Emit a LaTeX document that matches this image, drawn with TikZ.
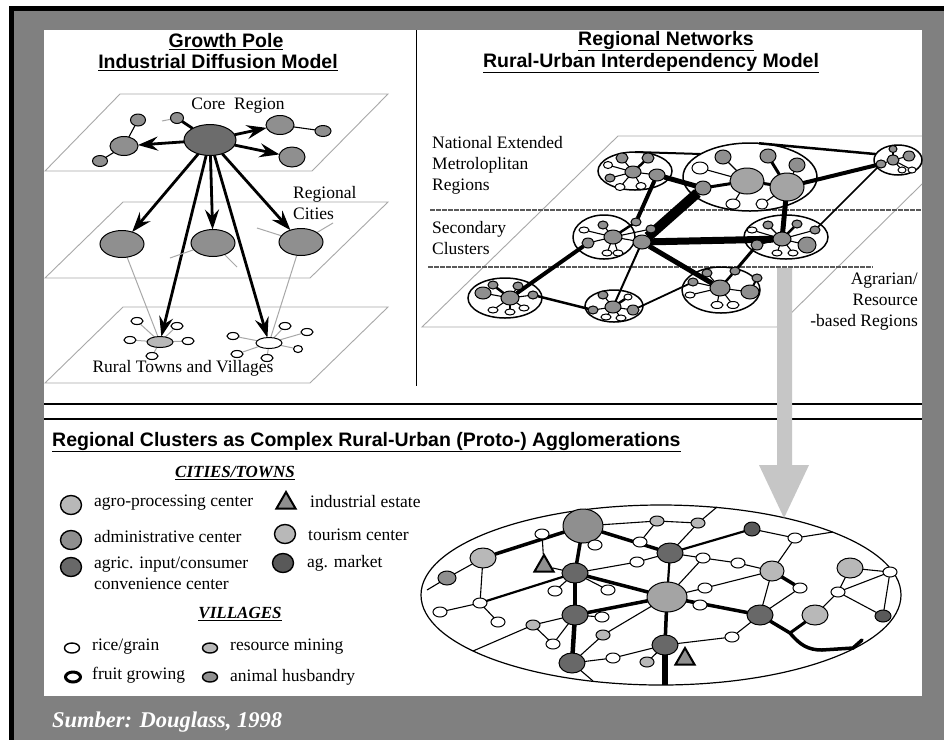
\documentclass[tikz,border=0pt]{standalone}
\usepackage{fontspec}
\setmainfont{Liberation Serif}
\newfontfamily\arial{Liberation Sans}
\usetikzlibrary{shapes.geometric,arrows.meta}
\pgfdeclarelayer{back}
\pgfdeclarelayer{clus}
\pgfdeclarelayer{edges}
\pgfsetlayers{back,clus,edges,main}
\definecolor{frgray}{HTML}{808080}
\definecolor{plane}{HTML}{A8A8A8}
\definecolor{cA}{HTML}{B8B8B8}
\definecolor{cA2}{HTML}{A4A4A4}
\definecolor{cB}{HTML}{8F8F8F}
\definecolor{cC}{HTML}{686868}
\definecolor{cD}{HTML}{595959}
\definecolor{corec}{HTML}{6C6C6C}
\definecolor{barg}{HTML}{C6C6C6}
\definecolor{dashc}{HTML}{5A5A5A}
\tikzset{
  ell/.style args={#1/#2/#3}{ellipse, draw=black, line width=1pt, fill=#3,
     minimum width=#1pt, minimum height=#2pt, inner sep=0pt, outer sep=0pt},
  vil/.style={ellipse, draw=black, line width=1.1pt, fill=white, minimum width=12pt, minimum height=7pt, inner sep=0pt},
  txt/.style={font=\fontsize{17.5}{21}\selectfont, inner sep=0pt},
  ttl/.style={font=\arial\bfseries\fontsize{19.5}{23}\selectfont, inner sep=0pt},
  hdr/.style={font=\bfseries\itshape\fontsize{17}{20}\selectfont, inner sep=0pt},
  pl/.style={draw=plane, line width=0.9pt},
  graylink/.style={draw=plane, line width=1pt},
  bigarr/.style={line width=2.8pt, -{Stealth[length=20pt,width=14pt,inset=7pt]}},
  tri/.style={regular polygon, regular polygon sides=3, draw=black, line width=2pt, fill=cB, minimum size=22pt, inner sep=0pt},
  thn/.style={line width=1.1pt},
  med/.style={line width=2.2pt},
  thk/.style={line width=3.5pt},
  clusb/.style={line width=1.5pt},
}
\begin{document}
\begin{tikzpicture}[x=1pt,y=-1pt]
\useasboundingbox (0,0) rectangle (944,740);
%================ background ================
\begin{pgfonlayer}{back}
\fill[white] (0,0) rectangle (944,740);
\fill[frgray] (13,11) rectangle (944,740);
\fill[black] (9,6) rectangle (944,11);
\fill[black] (9,6) rectangle (14,740);
\fill[white] (44,30) rectangle (922,696);
\draw[line width=1.2pt] (416.5,30) -- (416.5,386);
\draw[line width=1.3pt] (44,404) -- (922,404);
\draw[line width=1.3pt] (44,419) -- (922,419);
\draw[pl] (45,171) -- (120,94) -- (388,94) -- (312,171) -- cycle;
\draw[pl] (45,278) -- (123,202) -- (388,202) -- (310,278) -- cycle;
\draw[pl] (45,383) -- (123,307) -- (388,307) -- (310,383) -- cycle;
\draw[pl] (922,136) -- (618,136) -- (422,327) -- (777,327) -- (922,184);
\draw[dashc, line width=1.6pt, dash pattern=on 5pt off 1pt] (430,210) -- (922,210);
\draw[dashc, line width=1.6pt, dash pattern=on 5pt off 1pt] (428,267) -- (873,267);
\node[ell=480/180/white, line width=1.2pt] (agg) at (661,595) {};
\fill[barg] (777,268) -- (792,268) -- (792,465) -- (809,465) -- (784,518) -- (759,465) -- (777,465) -- cycle;
\end{pgfonlayer}
%================ titles and texts ================
\node[ttl] (t1a) at (226,42) {\underline{Growth Pole}};
\node[ttl] (t1b) at (218,63) {\underline{Industrial Diffusion Model}};
\node[ttl] (t2a) at (666,41) {\underline{Regional Networks}};
\node[ttl] (t2b) at (651,63) {\underline{Rural-Urban Interdependency Model}};
\node[ttl, anchor=west] (t3) at (52,442) {\underline{Regional Clusters as Complex Rural-Urban (Proto-) Agglomerations}};
\node[txt] (lcore) at (238,106) {Core\ \ Region};
\node[txt, anchor=west, align=left] (lreg) at (293,203) {Regional\\Cities};
\node[txt] (lrural) at (183,368) {Rural Towns and Villages};
\node[txt, anchor=west, align=left] (lnat) at (432,165) {National Extended\\Metroloplitan\\Regions};
\node[txt, anchor=west, align=left] (lsec) at (432,238) {Secondary\\Clusters};
\node[txt, anchor=east, align=right] (lagr) at (918,302) {Agrarian/\\Resource\\-based Regions};
%================ legend ================
\node[hdr] (hcity) at (235,473) {\underline{CITIES/TOWNS}};
\node[ell=21/19/cA, line width=1.4pt] (lg1) at (71,505) {};
\node[txt, anchor=west] (lt1) at (94,503) {agro-processing center};
\node[tri] (lg2) at (286,503) {};
\node[txt, anchor=west] (lt2) at (310,502) {industrial estate};
\node[ell=21/19/cB, line width=1.4pt] (lg3) at (71,540) {};
\node[txt, anchor=west] (lt3) at (94,537) {administrative center};
\node[ell=21/19/cA, line width=1.4pt] (lg4) at (285,534) {};
\node[txt, anchor=west] (lt4) at (308,535) {tourism center};
\node[ell=21/19/cC, line width=1.4pt] (lg5) at (71,567) {};
\node[txt, anchor=west, align=left] (lt5) at (94,573.5) {agric. input/consumer\\convenience center};
\node[ell=21/19/cD, line width=1.4pt] (lg6) at (283,563) {};
\node[txt, anchor=west] (lt6) at (307,563) {ag. market};
\node[hdr] (hvil) at (240,614) {\underline{VILLAGES}};
\node[ell=15/10/white, line width=1.4pt] (lv1) at (72,648) {};
\node[txt, anchor=west] (lvt1) at (92,647) {rice/grain};
\node[ell=15/10/cA, line width=1.4pt] (lv2) at (210,648) {};
\node[txt, anchor=west] (lvt2) at (230,647) {resource mining};
\node[ell=15/10/white, line width=3pt] (lv3) at (73,677) {};
\node[txt, anchor=west] (lvt3) at (92,675) {fruit growing};
\node[ell=15/10/cB, line width=1.4pt] (lv4) at (210,677) {};
\node[txt, anchor=west] (lvt4) at (230,677) {animal husbandry};
\node[font=\bfseries\itshape\fontsize{22.5}{26}\selectfont, text=white, anchor=west, inner sep=0pt] (src) at (52,722) {Sumber: Douglass, 1998};
%================ growth pole model ================
\node[ell=52/31/corec] (core) at (210,140) {};
\node[ell=28/19/cB] (tl) at (124,146) {};
\node[ell=15/12/cB] (tlu) at (138,120) {};
\node[ell=15/11/cB] (tld) at (100,161) {};
\node[ell=13/11/cB] (tt) at (177,118) {};
\node[ell=28/19/cB] (tr) at (280,125) {};
\node[ell=16/11/cB] (trr) at (323,131) {};
\node[ell=26/20/cB] (trd) at (292,157) {};
\node[ell=44/27/cB] (m1) at (122,244) {};
\node[ell=44/27/cB] (m2) at (213,243) {};
\node[ell=44/27/cB] (m3) at (301,242) {};
\node[ell=26/11/cA] (tw1) at (160,342) {};
\node[ell=26/11/white] (tw2) at (269,343) {};
\node[vil] (v1) at (137,321) {};
\node[vil] (v2) at (177,326) {};
\node[vil] (v3) at (130,340) {};
\node[vil] (v4) at (188,341) {};
\node[vil] (v5) at (152,356) {};
\node[vil] (u1) at (233,336) {};
\node[vil] (u2) at (285,326) {};
\node[vil] (u3) at (307,332) {};
\node[vil, minimum width=9pt] (u4) at (298,349) {};
\node[vil] (u5) at (237,354) {};
\node[vil] (u6) at (267,358) {};
\coordinate (sTT) at (162,121);
\coordinate (s1) at (170,258);
\coordinate (s2) at (237,267);
\coordinate (s3) at (257,228);
\coordinate (s4) at (333,223);
%================ regional networks: clusters ================
\begin{pgfonlayer}{clus}
\node[ell=74/38/white, clusb] (c1) at (635,171) {};
\node[ell=134/68/white, clusb] (c2) at (750,177) {};
\node[ell=48/30/white, clusb] (c3) at (898,160) {};
\node[ell=62/44/white, clusb] (c4) at (604,237) {};
\node[ell=84/44/white, clusb] (c5) at (786,237) {};
\node[ell=74/40/white, clusb] (c6) at (505,298) {};
\node[ell=58/32/white, clusb] (c7) at (614,306) {};
\node[ell=78/46/white, clusb] (c8) at (721,290) {};
\end{pgfonlayer}
% cluster 1
\node[ell=12/10/cB] (c1a) at (622,158) {};
\node[ell=12/10/cB] (c1b) at (648,158) {};
\node[ell=16/12/cB] (c1c) at (633,172) {};
\node[ell=16/12/cB] (c1d) at (657,175) {};
\node[ell=10/8/cB] (c1e) at (610,178) {};
\node[ell=10/7/white] (c1f) at (620,187) {};
\node[ell=10/7/white] (c1g) at (641,186) {};
\node[ell=9/7/white] (c1h) at (608,165) {};
% cluster 2
\node[ell=34/26/cA2] (c2a) at (747,181) {};
\node[ell=34/28/cA2] (c2b) at (787,187) {};
\node[ell=16/14/cB] (c2c) at (723,157) {};
\node[ell=16/14/cB] (c2d) at (768,156) {};
\node[ell=16/14/cB] (c2e) at (797,165) {};
\node[ell=16/12/white] (c2f) at (700,168) {};
\node[ell=14/10/white] (c2g) at (733,204) {};
\node[ell=12/10/white] (c2h) at (762,204) {};
\node[ell=16/14/cB] (c2i) at (703,188) {};
% cluster 3
\node[ell=12/10/cB] (c3a) at (893,160) {};
\node[ell=12/10/cB] (c3b) at (909,156) {};
\node[ell=10/8/cB] (c3c) at (881,164) {};
\node[ell=8/6/white] (c3d) at (902,170) {};
\node[ell=8/6/white] (c3e) at (912,170) {};
\node[ell=8/7/cB] (c3f) at (893,149) {};
% cluster 4
\node[ell=18/14/cB] (c4a) at (613,237) {};
\node[ell=10/8/cB] (c4b) at (603,225) {};
\node[ell=10/8/cB] (c4c) at (636,222) {};
\node[ell=10/8/cB] (c4d) at (651,229) {};
\node[ell=12/10/cB] (c4e) at (588,243) {};
\node[ell=10/6/white] (c4f) at (607,253) {};
\node[ell=10/6/white] (c4g) at (618,253) {};
\node[ell=10/6/white] (c4h) at (584,230) {};
\node[ell=18/14/cB] (c4i) at (642,242) {};
% cluster 5
\node[ell=18/14/cB] (c5a) at (782,239) {};
\node[ell=18/16/cB] (c5b) at (807,245) {};
\node[ell=10/8/cB] (c5c) at (768,225) {};
\node[ell=10/8/cB] (c5d) at (797,224) {};
\node[ell=10/8/cB] (c5e) at (815,230) {};
\node[ell=12/10/cB] (c5f) at (757,245) {};
\node[ell=10/6/white] (c5g) at (752,230) {};
\node[ell=10/6/white] (c5h) at (777,253) {};
\node[ell=10/6/white] (c5i) at (793,253) {};
% cluster 6
\node[ell=18/14/cB] (c6a) at (510,298) {};
\node[ell=16/12/cB] (c6b) at (483,293) {};
\node[ell=10/8/cB] (c6c) at (493,285) {};
\node[ell=10/8/cB] (c6d) at (518,286) {};
\node[ell=10/8/cB] (c6e) at (533,295) {};
\node[ell=10/6/white] (c6f) at (493,310) {};
\node[ell=10/6/white] (c6g) at (510,312) {};
\node[ell=10/6/white] (c6h) at (524,308) {};
% cluster 7
\node[ell=16/12/cB] (c7a) at (613,307) {};
\node[ell=10/8/cB] (c7b) at (603,295) {};
\node[ell=12/10/cB] (c7c) at (633,310) {};
\node[ell=10/8/cB] (c7d) at (593,310) {};
\node[ell=10/6/white] (c7e) at (606,317) {};
\node[ell=10/6/white] (c7f) at (621,318) {};
\node[ell=8/6/white] (c7g) at (628,297) {};
% cluster 8
\node[ell=20/16/cB] (c8a) at (720,288) {};
\node[ell=18/14/cB] (c8b) at (750,292) {};
\node[ell=10/8/cB] (c8c) at (693,282) {};
\node[ell=10/8/cB] (c8d) at (707,273) {};
\node[ell=10/8/cB] (c8e) at (735,271) {};
\node[ell=10/8/cB] (c8f) at (757,278) {};
\node[ell=12/7/white] (c8g) at (717,305) {};
\node[ell=12/7/white] (c8h) at (733,305) {};
\node[ell=10/6/white] (c8i) at (690,295) {};
%================ agglomeration nodes ================
\node[ell=40/34/cB] (A) at (583,526) {};
\node[ell=26/20/cA] (B) at (483,558) {};
\node[ell=18/14/cB] (C) at (447,578) {};
\node[ell=26/20/cC] (D) at (575,573) {};
\node[ell=26/20/cC] (E) at (670,553) {};
\node[ell=40/30/cA2] (F) at (667,597) {};
\node[ell=26/20/cC] (G) at (575,615) {};
\node[ell=26/20/cC] (H) at (760,615) {};
\node[ell=26/20/cC] (I) at (665,645) {};
\node[ell=26/20/cC] (J) at (572,663) {};
\node[ell=16/14/cD] (K) at (752,529) {};
\node[ell=24/20/cA] (L) at (772,571) {};
\node[ell=26/20/cA] (M) at (850,568) {};
\node[ell=26/20/cA] (N) at (815,615) {};
\node[ell=16/12/cD] (O) at (883,616) {};
\node[ell=14/10/cA] (P) at (657,521) {};
\node[ell=14/10/cA] (Q) at (698,523) {};
\node[ell=14/10/cA] (R) at (533,625) {};
\node[ell=14/10/cA] (S) at (603,635) {};
\node[ell=14/10/cA] (T) at (647,662) {};
\node[tri] (tri1) at (544,566) {};
\node[tri] (tri2) at (685,659) {};
\foreach \n/\x/\y in {w1/542/534, w2/595/545, w3/640/542, w4/795/538, w5/637/562, w6/703/558,
  w7/738/563, w8/480/603, w9/440/612, w10/498/622, w11/555/591, w12/608/590, w13/705/588,
  w14/800/588, w15/838/592, w16/890/572, w17/700/605, w18/602/617, w19/553/644, w20/732/637, w21/613/658}
  {\node[ell=14/10/white] (\n) at (\x,\y) {};}
\coordinate (eL) at (427,590);
\coordinate (eT) at (717,507);
\coordinate (eTR) at (833,532);
\coordinate (eBL) at (473,651);
\coordinate (eB1) at (593,681);
\coordinate (eB2) at (665,685);
\coordinate (hc1) at (790,633);
\coordinate (hc2) at (822,650);
\coordinate (hc3) at (853,648);
\coordinate (hc4) at (862,640);
%================ connectors ================
\begin{pgfonlayer}{edges}
% growth pole
\draw[thn] (tl) -- (tlu);
\draw[thn] (tl) -- (tld);
\draw[thn] (tr) -- (trr);
\draw[graylink] (sTT) -- (tt);
\draw[line width=2.8pt] (core) -- (tt);
\draw[bigarr] (core) -- (tl);
\draw[bigarr] (core) -- (tr);
\draw[bigarr] (core) -- (trd);
\draw[bigarr] (core) -- (m1);
\draw[bigarr] (core) -- (tw1);
\draw[bigarr] (core) -- (m2);
\draw[bigarr] (core) -- (tw2);
\draw[bigarr] (core) -- (m3);
\draw[graylink] (m1) -- (tw1);
\draw[graylink] (m3) -- (tw2);
\draw[graylink] (s1) -- (m2);
\draw[graylink] (s2) -- (m2);
\draw[graylink] (s3) -- (m3);
\draw[graylink] (s4) -- (m3);
\foreach \v in {v1,v2,v3,v4,v5} \draw[graylink] (tw1) -- (\v);
\foreach \v in {u1,u2,u3,u4,u5,u6} \draw[graylink] (tw2) -- (\v);
% regional networks
\draw[line width=10pt] (c2i) -- (c4i);
\draw[line width=5pt] (c1d) -- (c2i);
\draw[line width=4pt] (c1d) -- (c4c);
\draw[line width=7pt] (c4i) -- (c5a);
\draw[line width=5pt] (c4i) -- (c8a);
\draw[line width=2pt] (c4i) -- (c7a);
\draw[line width=4pt] (c4e) -- (c6a);
\draw[line width=2.5pt] (c6e) -- (c7d);
\draw[line width=1.8pt] (c7c) -- (c8c);
\draw[line width=3pt] (c5f) -- (c8e);
\draw[line width=5pt] (c2b) -- (c5a);
\draw[line width=2.5pt] (c2.75) -- (c3.165);
\draw[line width=4pt] (c2b) -- (c3c);
\draw[line width=2pt] (c1.90) -- (c2.155);
\draw[line width=1.5pt] (c3c) -- (c5e);
% inside clusters
\draw[line width=2.5pt] (c1c) -- (c1b);
\foreach \v in {c1a,c1e,c1f,c1g,c1d,c1h} \draw[thn] (c1c) -- (\v);
\draw[line width=3pt] (c2a) -- (c2b);
\draw[line width=3pt] (c2d) -- (c2b);
\draw[line width=3pt] (c2a) -- (c2i);
\foreach \v in {c2c,c2f,c2g} \draw[thn] (c2a) -- (\v);
\foreach \v in {c2e,c2h} \draw[thn] (c2b) -- (\v);
\draw[line width=2pt] (c3a) -- (c3f);
\foreach \v in {c3b,c3c,c3d,c3e} \draw[thn] (c3a) -- (\v);
\draw[line width=2.5pt] (c4a) -- (c4c);
\foreach \v in {c4b,c4d,c4e,c4f,c4g,c4h,c4i} \draw[thn] (c4a) -- (\v);
\draw[line width=2.5pt] (c5a) -- (c5d);
\foreach \v in {c5b,c5c,c5e,c5f,c5g,c5h,c5i} \draw[thn] (c5a) -- (\v);
\draw[line width=2.5pt] (c6a) -- (c6c);
\foreach \v in {c6b,c6d,c6e,c6f,c6g,c6h} \draw[thn] (c6a) -- (\v);
\draw[line width=2.5pt] (c7a) -- (c7g);
\foreach \v in {c7b,c7c,c7d,c7e,c7f} \draw[thn] (c7a) -- (\v);
\draw[line width=2.5pt] (c8a) -- (c8e);
\foreach \v in {c8b,c8c,c8d,c8g,c8h,c8i} \draw[thn] (c8a) -- (\v);
\draw[line width=2pt] (c8b) -- (c8f);
% agglomeration
\draw[thk] (B) -- (A);
\draw[thk] (A) -- (D);
\draw[thk] (A) -- (E);
\draw[thk] (D) -- (F);
\draw[thk] (G) -- (F);
\draw[thk] (F) -- (H);
\draw[thk] (F) -- (I);
\draw[thk] (L) -- (w14);
\draw[line width=4.5pt] (D) -- (G);
\draw[line width=4.5pt] (G) -- (J);
\draw[line width=6pt] (I) -- (eB2);
\draw[med] (E) -- (K);
\draw[med] (w8) -- (D);
\draw[med] (E) -- (F);
\draw[line width=3pt] (N) -- (hc1);
\draw[line width=3.5pt, line cap=round] (H) -- (hc1) .. controls (800,645) and (808,650) .. (hc2) -- (hc3) -- (hc4);
\foreach \a/\b in {C/B, C/eL, B/w8, w8/w9, w8/w10, w1/tri1, A/w2, A/P, P/Q, P/w3, Q/E, Q/eT,
  E/w6, w6/w7, w7/L, K/w4, w4/L, w4/eTR, F/w6, F/w13, w13/L, L/H, w14/H, F/w17, M/w16, M/w15,
  w15/w16, w15/O, w16/O, w15/N, H/w20, w20/I, G/w18, G/w19, R/w19, R/eBL, J/w21, w21/I, J/S,
  S/F, J/eB1, I/T, D/w11, D/w12, D/w5, w5/E, D/tri1, G/R}
  \draw[thn] (\a) -- (\b);
\end{pgfonlayer}
\end{tikzpicture}
\end{document}
